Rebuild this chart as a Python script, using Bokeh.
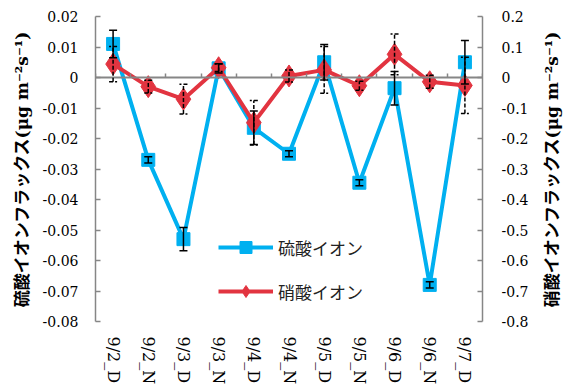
import math
from bokeh.plotting import figure
from bokeh.layouts import row
from bokeh.core.properties import value
from bokeh.models import (Range1d, LinearAxis, FixedTicker, ColumnDataSource,
                          Whisker, TeeHead, Legend, LegendItem)
from bokeh.embed import file_html
from bokeh.resources import INLINE

categories = ["9/2_D", "9/2_N", "9/3_D", "9/3_N", "9/4_D", "9/4_N",
              "9/5_D", "9/5_N", "9/6_D", "9/6_N", "9/7_D"]
sulfate = [0.011, -0.027, -0.053, 0.003, -0.0165, -0.025,
           0.005, -0.0345, -0.0035, -0.068, 0.005]
sulfate_err = [0.0045, 0.001, 0.0038, 0.0015, 0.0055, 0.001,
               0.0058, 0.001, 0.0055, 0.001, 0.0071]
nitrate = [0.044, -0.030, -0.071, 0.032, -0.148, 0.005,
           0.025, -0.027, 0.076, -0.014, -0.026]
nitrate_err = [0.058, 0.021, 0.049, 0.012, 0.073, 0.020,
               0.077, 0.015, 0.067, 0.021, 0.092]

left_ticks = [0.02, 0.01, 0, -0.01, -0.02, -0.03, -0.04, -0.05, -0.06, -0.07, -0.08]
left_labels = ["0.02", "0.01", "0", "-0.01", "-0.02", "-0.03", "-0.04",
               "-0.05", "-0.06", "-0.07", "-0.08"]
right_ticks = [0.2, 0.1, 0, -0.1, -0.2, -0.3, -0.4, -0.5, -0.6, -0.7, -0.8]
right_labels = ["0.2", "0.1", "0", "-0.1", "-0.2", "-0.3", "-0.4",
                "-0.5", "-0.6", "-0.7", "-0.8"]

series_names = ["硫酸イオン", "硝酸イオン"]
left_title = "硫酸イオンフラックス(μg m⁻²s⁻¹)"
right_title = "硝酸イオンフラックス(μg m⁻²s⁻¹)"

BLUE = "#00B0F0"
RED = "#E23440"
GRAY = "#868686"
TICK_FONT = "DejaVu Serif"
TITLE_FONT = "DejaVu Serif, Noto Sans CJK JP"

n = len(categories)
xpos = [i + 0.5 for i in range(n)]
bounds = list(range(n + 1))

src = ColumnDataSource(dict(
    x=xpos, s=sulfate, n=nitrate,
    s_lo=[v - e for v, e in zip(sulfate, sulfate_err)],
    s_hi=[v + e for v, e in zip(sulfate, sulfate_err)],
    n_lo=[v - e for v, e in zip(nitrate, nitrate_err)],
    n_hi=[v + e for v, e in zip(nitrate, nitrate_err)],
))

p = figure(width=536, height=392, output_backend="svg", toolbar_location=None,
           x_range=Range1d(0, n), y_range=Range1d(-0.08, 0.02),
           min_border_left=95, min_border_right=54, min_border_top=16,
           min_border_bottom=71, y_axis_location=None, x_axis_location=None)
p.extra_y_ranges = {"nit": Range1d(-0.8, 0.2)}
p.grid.visible = False
p.outline_line_color = None
p.background_fill_color = "white"
p.border_fill_color = "white"

# left axis
la = LinearAxis(ticker=FixedTicker(ticks=left_ticks),
                major_label_overrides=dict(zip(left_ticks, left_labels)))
la.axis_line_color = GRAY
la.axis_line_width = 1.5
la.major_tick_line_color = GRAY
la.major_tick_line_width = 1.5
la.major_tick_in = 5
la.major_tick_out = 0
la.minor_tick_line_color = None
la.major_label_standoff = 17
la.major_label_text_font = TICK_FONT
la.major_label_text_font_size = "14px"
la.major_label_text_color = "black"
la.axis_label = left_title
la.axis_label_text_font = TITLE_FONT
la.axis_label_text_font_size = "17px"
la.axis_label_text_font_style = "bold"
la.axis_label_text_color = "black"
la.axis_label_standoff = 8
p.add_layout(la, "left")

# right axis
ra = LinearAxis(y_range_name="nit", ticker=FixedTicker(ticks=right_ticks),
                major_label_overrides=dict(zip(right_ticks, right_labels)))
ra.axis_line_color = GRAY
ra.axis_line_width = 1.5
ra.major_tick_line_color = GRAY
ra.major_tick_line_width = 1.5
ra.major_tick_in = 5
ra.major_tick_out = 0
ra.minor_tick_line_color = None
ra.major_label_standoff = 19
ra.major_label_text_font = TICK_FONT
ra.major_label_text_font_size = "14px"
ra.major_label_text_color = "black"
p.add_layout(ra, "right")

# bottom category labels
ba = LinearAxis(ticker=FixedTicker(ticks=xpos),
                major_label_overrides=dict(zip(xpos, categories)))
ba.axis_line_color = None
ba.major_tick_line_color = None
ba.minor_tick_line_color = None
ba.major_label_orientation = "vertical"
ba.major_label_standoff = 9
ba.major_label_text_font = TICK_FONT
ba.major_label_text_font_size = "16px"
ba.major_label_text_color = "black"
p.add_layout(ba, "below")

# zero line axis with boundary ticks
za = LinearAxis(ticker=FixedTicker(ticks=bounds), fixed_location=0)
za.axis_line_color = GRAY
za.axis_line_width = 2
za.major_tick_line_color = GRAY
za.major_tick_line_width = 1.5
za.major_tick_in = 0
za.major_tick_out = 4
za.minor_tick_line_color = None
za.major_label_text_font_size = "0px"
za.major_label_text_color = None
za.major_label_standoff = 0
p.add_layout(za, "above")

# series
bl = p.line("x", "s", source=src, line_color=BLUE, line_width=4)
bm = p.scatter("x", "s", source=src, marker="square", size=13,
               fill_color=BLUE, line_color=BLUE)
rl = p.line("x", "n", source=src, line_color=RED, line_width=4, y_range_name="nit")
rm = p.scatter("x", "n", source=src, marker="diamond", size=22,
               fill_color=RED, line_color=RED, y_range_name="nit")

ws = Whisker(base="x", lower="s_lo", upper="s_hi", source=src, level="annotation",
             line_color="black", line_width=1.5,
             upper_head=TeeHead(size=8, line_color="black", line_width=1.5),
             lower_head=TeeHead(size=8, line_color="black", line_width=1.5))
wn = Whisker(base="x", lower="n_lo", upper="n_hi", source=src, level="annotation",
             y_range_name="nit", line_color="black", line_width=1.5, line_dash="4 2",
             upper_head=TeeHead(size=8, line_color="black", line_width=1.5, line_dash="4 2"),
             lower_head=TeeHead(size=8, line_color="black", line_width=1.5, line_dash="4 2"))
p.add_layout(ws)
p.add_layout(wn)

legend = Legend(items=[LegendItem(label=series_names[0], renderers=[bl, bm]),
                       LegendItem(label=series_names[1], renderers=[rl, rm])],
                location=(123, 15), padding=0, margin=0, spacing=14,
                glyph_width=55, glyph_height=30, label_height=30, label_standoff=5,
                border_line_color=None, background_fill_alpha=0,
                label_text_font="Noto Sans CJK JP", label_text_font_size="17px",
                label_text_color="#222222")
p.add_layout(legend, "center")

# narrow strip holding the right axis title (reads bottom to top)
p2 = figure(width=30, height=392, output_backend="svg", toolbar_location=None,
            x_range=Range1d(0, 1), y_range=Range1d(0, 1),
            min_border_left=0, min_border_right=0, min_border_top=16,
            min_border_bottom=71, x_axis_location=None, y_axis_location=None)
p2.grid.visible = False
p2.outline_line_color = None
p2.background_fill_color = "white"
p2.border_fill_color = "white"
p2.text(x=[0.5], y=[0.5], text=[right_title], angle=math.pi / 2,
        text_align="center", text_baseline="middle",
        text_font=value(TITLE_FONT), text_font_size=value("17px"),
        text_font_style="bold", text_color="black")

layout = row(p, p2, spacing=0)
open("out.html", "w").write(file_html(layout, INLINE))
